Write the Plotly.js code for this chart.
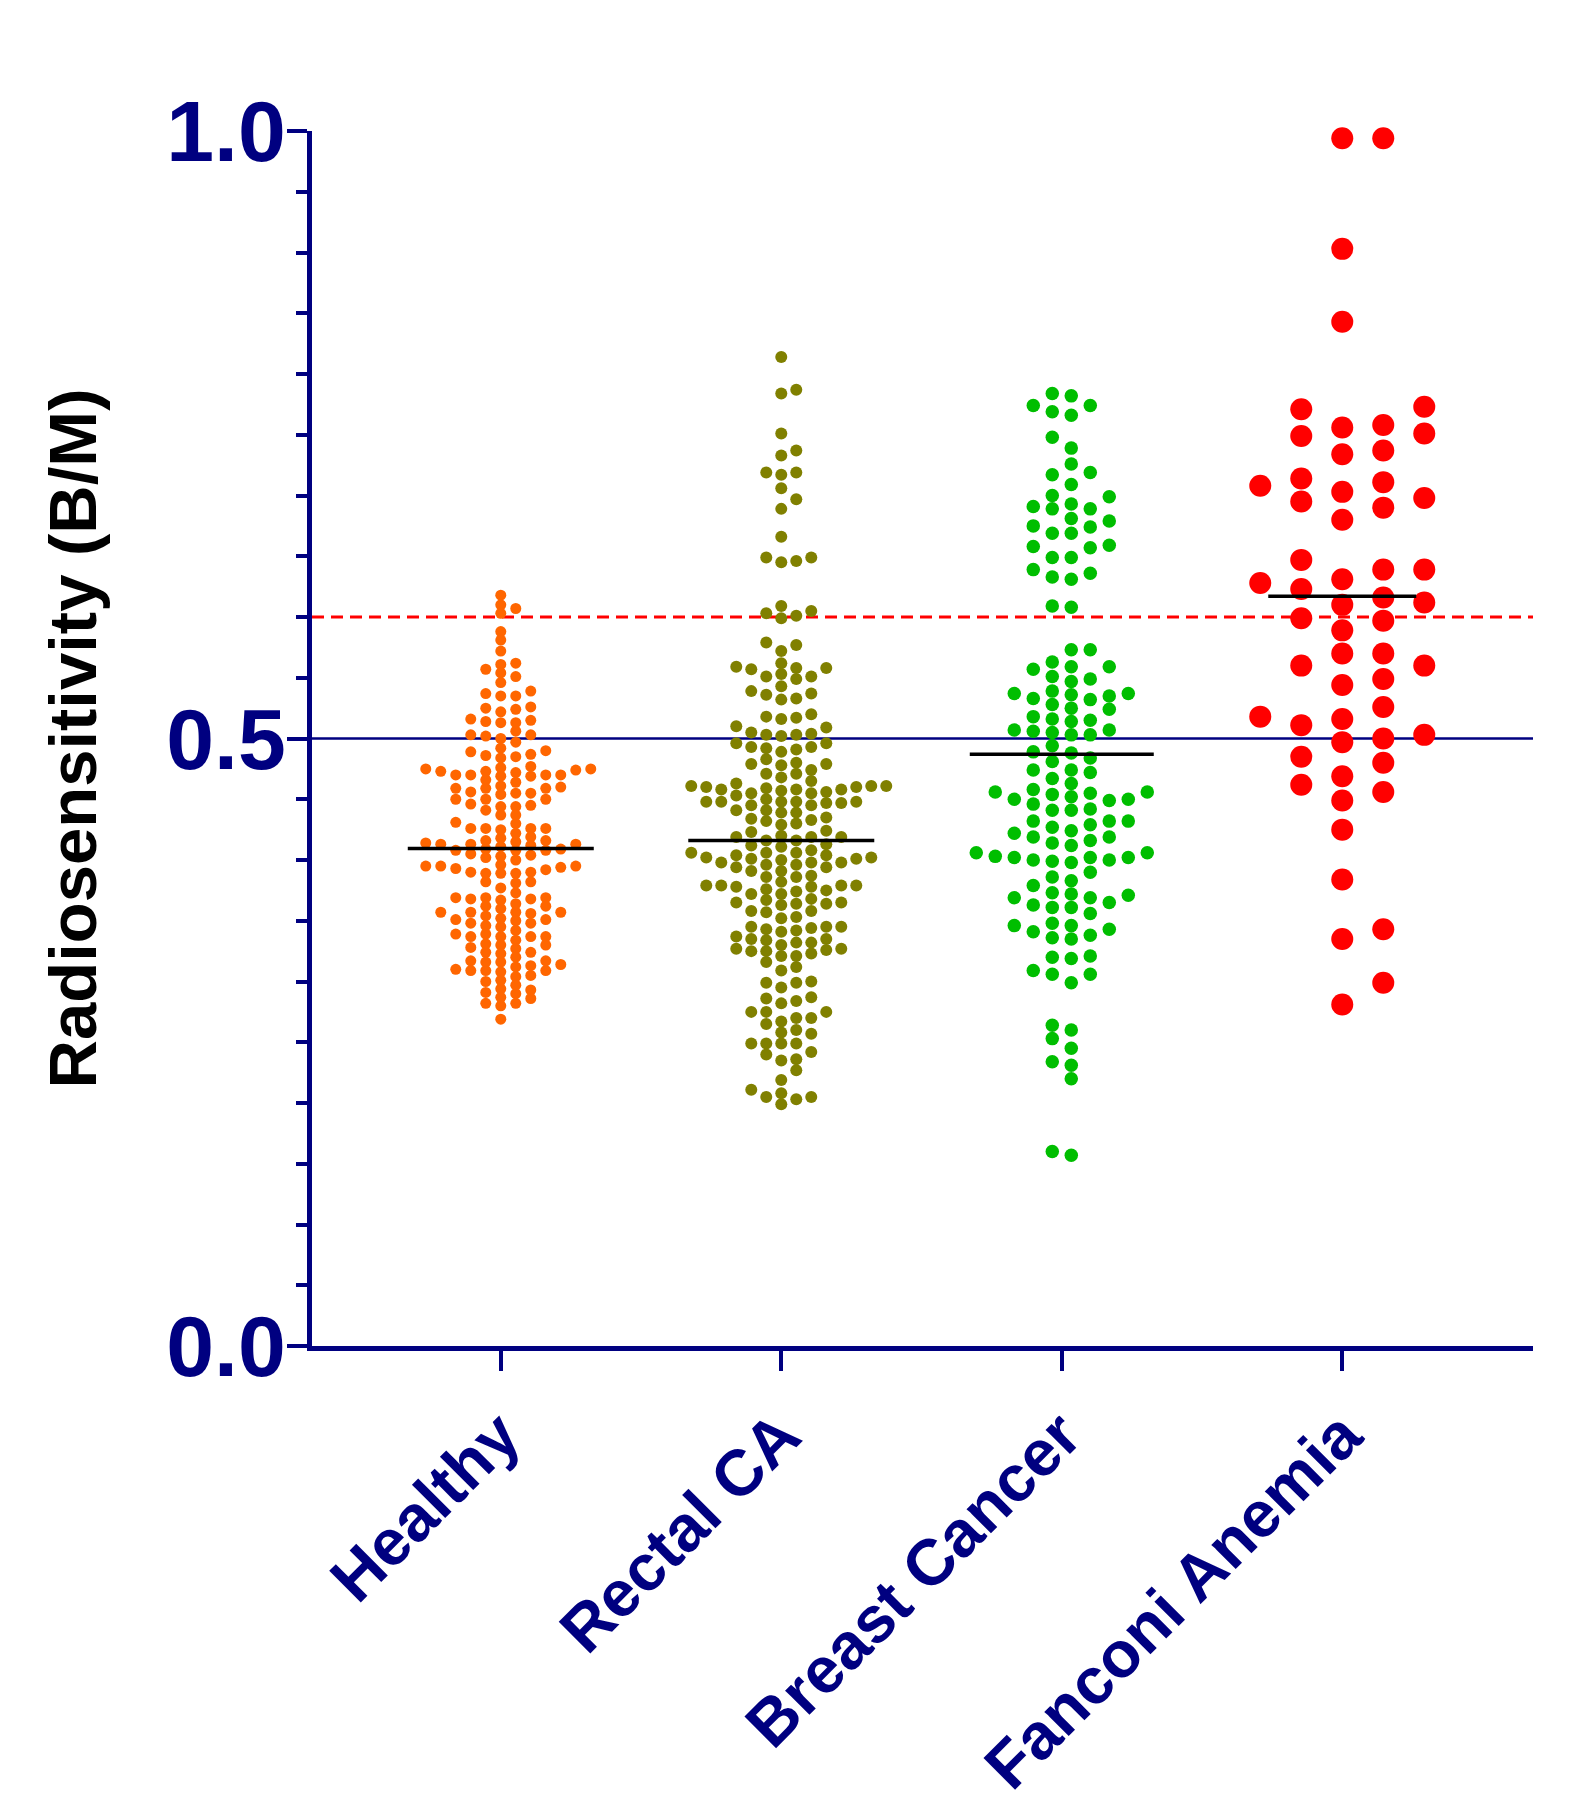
<!DOCTYPE html>
<html>
<head>
<meta charset="utf-8">
<script src="https://cdn.plot.ly/plotly-3.0.1.min.js"></script>
<style>
  html, body { margin: 0; padding: 0; background: #ffffff; }
  #chart { width: 1570px; height: 1814px; }
</style>
</head>
<body>
<div id="chart"></div>
<script>
// Category names shown on the x axis
const groups = ['Healthy', 'Rectal CA', 'Breast Cancer', 'Fanconi Anemia'];

// Radiosensitivity (B/M) of each individual, per group
const healthy = [
  0.618, 0.603, 0.588, 0.581, 0.572, 0.561, 0.551, 0.535, 0.524, 0.516, 0.502, 0.487, 0.470, 0.460, 0.450,
  0.607, 0.562, 0.554, 0.546, 0.526, 0.515, 0.503, 0.492, 0.484, 0.475, 0.459, 0.450,
  0.610, 0.557, 0.539, 0.514, 0.506, 0.497, 0.485, 0.472, 0.464, 0.455,
  0.537, 0.522, 0.513, 0.503, 0.489, 0.473, 0.455,
  0.535, 0.525, 0.513, 0.500, 0.486, 0.475, 0.466, 0.459, 0.450,
  0.490, 0.470, 0.454, 0.474, 0.459, 0.470, 0.461, 0.470, 0.456, 0.473, 0.469, 0.476, 0.469, 0.477,
  0.418, 0.409, 0.395, 0.409, 0.395, 0.357, 0.408, 0.390, 0.357, 0.337, 0.314,
  0.446, 0.426, 0.414, 0.403, 0.393, 0.368, 0.360, 0.350, 0.339, 0.330, 0.317, 0.309,
  0.444, 0.431, 0.412, 0.402, 0.389, 0.382, 0.373, 0.364, 0.354, 0.346, 0.337, 0.327, 0.312, 0.304, 0.294, 0.286,
  0.441, 0.430, 0.416, 0.408, 0.400, 0.389, 0.367, 0.357, 0.345, 0.337, 0.324, 0.313, 0.305, 0.293, 0.282,
  0.444, 0.426, 0.416, 0.405, 0.396, 0.381, 0.368, 0.357, 0.348, 0.339, 0.330, 0.316, 0.308, 0.300, 0.290, 0.280, 0.269,
  0.445, 0.437, 0.425, 0.415, 0.390, 0.382, 0.369, 0.362, 0.331, 0.323, 0.309, 0.301, 0.291, 0.282,
  0.437, 0.426, 0.408, 0.389, 0.377, 0.369, 0.351, 0.342, 0.334, 0.324, 0.316, 0.309, 0.297, 0.287,
  0.426, 0.413, 0.404, 0.394, 0.369, 0.356, 0.348, 0.328, 0.320, 0.310,
  0.413, 0.392, 0.362, 0.351, 0.337, 0.317,
  0.419, 0.411, 0.352, 0.422, 0.413, 0.395
];

const rectalCA = [
  0.814, 0.784, 0.787, 0.751, 0.737, 0.733, 0.719, 0.717, 0.719, 0.706, 0.697, 0.689, 0.666,
  0.649, 0.649, 0.646, 0.645, 0.609, 0.605, 0.603, 0.601, 0.599, 0.579, 0.577, 0.572,
  0.562, 0.559, 0.558, 0.558, 0.557, 0.553, 0.551, 0.551, 0.549, 0.543,
  0.536, 0.532, 0.533, 0.539, 0.537, 0.518, 0.517, 0.516, 0.520, 0.510, 0.509,
  0.458, 0.456, 0.448, 0.406, 0.379, 0.461, 0.448, 0.401, 0.378,
  0.492, 0.461, 0.450, 0.441, 0.433, 0.419, 0.408, 0.400, 0.391, 0.382, 0.372, 0.364,
  0.505, 0.496, 0.489, 0.479, 0.471, 0.460, 0.447, 0.435, 0.419, 0.402, 0.394, 0.386, 0.378, 0.367, 0.358,
  0.503, 0.483, 0.474, 0.458, 0.447, 0.439, 0.432, 0.423, 0.411, 0.402, 0.394, 0.386, 0.374, 0.365, 0.353,
  0.503, 0.491, 0.480, 0.461, 0.453, 0.445, 0.429, 0.416, 0.404, 0.396, 0.387, 0.379, 0.363, 0.352,
  0.504, 0.493, 0.479, 0.471, 0.460, 0.448, 0.439, 0.430, 0.416, 0.406, 0.398, 0.372, 0.364,
  0.502, 0.493, 0.478, 0.463, 0.455, 0.445, 0.434, 0.424, 0.413, 0.398, 0.391, 0.379, 0.368, 0.358,
  0.496, 0.455, 0.441, 0.420, 0.412, 0.404, 0.396, 0.376, 0.365, 0.357,
  0.465, 0.457, 0.448, 0.419, 0.406, 0.398, 0.379,
  0.468, 0.459, 0.448, 0.401, 0.375, 0.458,
  0.345, 0.345, 0.343, 0.341, 0.342, 0.345, 0.344,
  0.335, 0.337, 0.334, 0.332, 0.332, 0.330, 0.335,
  0.326, 0.325, 0.325, 0.323, 0.321, 0.321, 0.327, 0.327,
  0.316, 0.312, 0.309, 0.299, 0.295, 0.300, 0.299,
  0.286, 0.282, 0.287, 0.284, 0.275, 0.275, 0.275,
  0.265, 0.270, 0.270, 0.267, 0.260, 0.257, 0.258,
  0.249, 0.249, 0.249, 0.249, 0.242, 0.240, 0.235, 0.236, 0.227, 0.219,
  0.208, 0.203, 0.205, 0.205, 0.211, 0.199
];

const breastCancer = [
  0.784, 0.782, 0.774, 0.769, 0.766, 0.774,
  0.748, 0.739, 0.726, 0.719, 0.717, 0.709,
  0.700, 0.699, 0.689, 0.691, 0.693, 0.689,
  0.679, 0.681, 0.674, 0.675, 0.669, 0.669,
  0.657, 0.659, 0.658, 0.649, 0.649,
  0.636, 0.639, 0.633, 0.631,
  0.609, 0.608, 0.573, 0.573,
  0.563, 0.559, 0.559, 0.557,
  0.549, 0.547, 0.551,
  0.537, 0.533, 0.535, 0.537, 0.536, 0.539,
  0.528, 0.524, 0.525, 0.532,
  0.518, 0.514, 0.516, 0.515,
  0.507, 0.506, 0.505, 0.507, 0.503, 0.503,
  0.494, 0.488, 0.484, 0.489, 0.481,
  0.472, 0.474, 0.474, 0.467,
  0.463, 0.458, 0.456, 0.449, 0.455, 0.450, 0.452, 0.450, 0.456, 0.454,
  0.446, 0.441, 0.442, 0.441,
  0.432, 0.429, 0.432, 0.427, 0.432, 0.424, 0.422,
  0.416, 0.419, 0.419, 0.414, 0.412,
  0.406, 0.399, 0.400, 0.402, 0.403, 0.398, 0.402, 0.402, 0.400, 0.406,
  0.390, 0.383, 0.386, 0.379,
  0.369, 0.373, 0.369, 0.365, 0.372, 0.371, 0.361, 0.363, 0.361, 0.356,
  0.348, 0.341, 0.343, 0.346, 0.346, 0.335, 0.336, 0.338,
  0.321, 0.320, 0.319,
  0.306, 0.309, 0.306, 0.299, 0.264, 0.260, 0.253, 0.245, 0.234, 0.231, 0.220, 0.157, 0.160
];

const fanconiAnemia = [
  0.994, 0.994, 0.903, 0.843, 0.773, 0.771, 0.756, 0.758, 0.751, 0.749, 0.737, 0.734,
  0.714, 0.711, 0.708, 0.703, 0.698, 0.695, 0.690, 0.680,
  0.639, 0.639, 0.647, 0.628, 0.631, 0.616, 0.623, 0.610, 0.612, 0.597, 0.589, 0.599,
  0.560, 0.570, 0.560, 0.570, 0.549, 0.544, 0.518, 0.516, 0.526, 0.511, 0.497, 0.500,
  0.485, 0.503, 0.480, 0.469, 0.456, 0.462, 0.449, 0.425, 0.384, 0.343, 0.335, 0.299, 0.281
];

// Group mean drawn as a horizontal bar
const groupMeans = [0.4095, 0.416, 0.487, 0.617];

// Reference levels
const normalLimit = 0.5;
const highLimit = 0.6;

// Y axis labelled ticks
const yTickVals = [0, 0.5, 1.0];
const yTickText = ['0.0', '0.5', '1.0'];

const seriesValues = [healthy, rectalCA, breastCancer, fanconiAnemia];

// ---- geometry & styling ----
const W = 1570, H = 1814;
const M = { l: 312, r: 37, t: 131, b: 468 };
const xRange = [-0.673, 3.68];
const yRange = [0, 1];
const pxPerX = (W - M.l - M.r) / (xRange[1] - xRange[0]);
const pxPerY = (H - M.t - M.b) / (yRange[1] - yRange[0]);

const NAVY = '#000080';
const FONT = 'Liberation Sans, Arial, Helvetica, sans-serif';

const styles = [
  { color: '#FF6600', size: 11,   colPx: 15, gapPx: 8,   half: false, meanHalfPx: 93 },
  { color: '#808000', size: 12,   colPx: 15, gapPx: 10,  half: false, meanHalfPx: 93 },
  { color: '#00BE00', size: 13.5, colPx: 19, gapPx: 13,  half: true,  meanHalfPx: 92 },
  { color: '#FF0000', size: 22,   colPx: 41, gapPx: 22,  half: false, meanHalfPx: 74 }
];

// Column-based dot layout: each point goes to the nearest free column
// (alternating right/left of the centre) where it does not collide vertically.
function swarmOffsets(values, st) {
  const order = values.map((v, i) => i).sort((a, b) => values[a] - values[b]);
  const cols = new Map();
  const offsets = new Array(values.length);
  for (const i of order) {
    const ypx = values[i] * pxPerY;
    for (let k = 0; k < 200; k++) {
      let c;
      if (st.half) {
        const m = Math.floor(k / 2);
        c = (k % 2 === 0 ? 1 : -1) * (m + 0.5);
      } else if (k === 0) {
        c = 0;
      } else {
        const m = Math.ceil(k / 2);
        c = (k % 2 === 1 ? 1 : -1) * m;
      }
      const key = String(c);
      const arr = cols.get(key) || [];
      if (arr.every(y => Math.abs(y - ypx) >= st.gapPx)) {
        arr.push(ypx);
        cols.set(key, arr);
        offsets[i] = c * st.colPx;
        break;
      }
    }
  }
  return offsets;
}

const traces = seriesValues.map((vals, gi) => {
  const st = styles[gi];
  const off = swarmOffsets(vals, st);
  return {
    type: 'scatter',
    mode: 'markers',
    name: groups[gi],
    x: vals.map((v, i) => gi + off[i] / pxPerX),
    y: vals,
    cliponaxis: false,
    hoverinfo: 'y+name',
    marker: { color: st.color, size: st.size, line: { width: 0 } }
  };
});

const shapes = [
  {
    type: 'line', xref: 'paper', yref: 'y', x0: 0, x1: 1, y0: normalLimit, y1: normalLimit,
    line: { color: NAVY, width: 2.5 }, layer: 'below'
  },
  {
    type: 'line', xref: 'paper', yref: 'y', x0: 0, x1: 1, y0: highLimit, y1: highLimit,
    line: { color: '#FF0000', width: 3, dash: '12px,7px' }, layer: 'below'
  }
];
groupMeans.forEach((m, gi) => {
  const hw = styles[gi].meanHalfPx / pxPerX;
  shapes.push({
    type: 'line', xref: 'x', yref: 'y', x0: gi - hw, x1: gi + hw, y0: m, y1: m,
    line: { color: '#000000', width: 3.5 }, layer: 'above'
  });
});

const layout = {
  width: W,
  height: H,
  margin: M,
  paper_bgcolor: '#ffffff',
  plot_bgcolor: '#ffffff',
  showlegend: false,
  font: { family: FONT },
  xaxis: {
    range: xRange,
    tickmode: 'array',
    tickvals: [0, 1, 2, 3],
    ticktext: groups,
    tickangle: -45,
    ticks: 'outside',
    ticklen: 20,
    tickwidth: 4,
    tickcolor: NAVY,
    showline: true,
    linecolor: NAVY,
    linewidth: 5,
    showgrid: false,
    zeroline: false,
    automargin: false,
    tickfont: { family: FONT, size: 65, color: NAVY, weight: 'bold' }
  },
  yaxis: {
    range: yRange,
    tickmode: 'array',
    tickvals: yTickVals,
    ticktext: yTickText,
    ticks: 'outside',
    ticklen: 20,
    tickwidth: 4,
    tickcolor: NAVY,
    ticklabelstandoff: -16,
    minor: { dtick: 0.05, tick0: 0, ticks: 'outside', ticklen: 11, tickwidth: 4, tickcolor: NAVY, showgrid: false },
    showline: true,
    linecolor: NAVY,
    linewidth: 5,
    showgrid: false,
    zeroline: false,
    automargin: false,
    tickfont: { family: FONT, size: 86, color: NAVY, weight: 'bold' },
    title: {
      text: 'Radiosensitivity (B/M)',
      font: { family: FONT, size: 67, color: '#000000', weight: 'bold' },
      standoff: 49
    }
  },
  shapes: shapes
};

Plotly.newPlot('chart', traces, layout, { displayModeBar: false, staticPlot: true });
</script>
</body>
</html>
